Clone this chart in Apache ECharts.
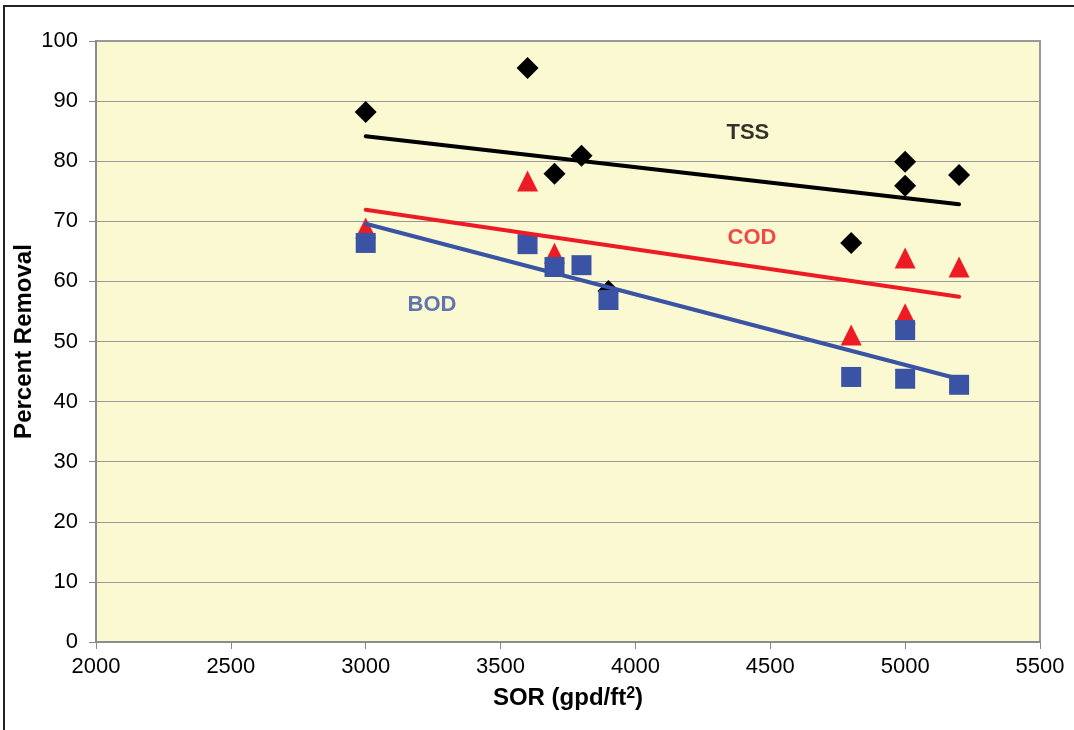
<!DOCTYPE html>
<html lang="en">
<head>
	<meta charset="UTF-8">
	<title>Percent Removal vs SOR</title>
	<style>
		body { margin: 0; background: #fff; }
	</style>
</head>
<body>
	<div id="main" style="width: 1074px;height: 730px"></div>
	<script src="https://cdn.jsdelivr.net/npm/echarts@6/dist/echarts.min.js"></script>
	<script>
		// values
		var tssX = [3000, 3600, 3700, 3800, 3900, 4800, 5000, 5000, 5200]
		var tssY = [88.2, 95.5, 77.9, 80.9, 58.4, 66.4, 79.9, 75.9, 77.7]

		var codX = [3000, 3600, 3700, 4800, 5000, 5000, 5200]
		var codY = [68.9, 76.7, 64.7, 51.1, 63.9, 54.6, 62.4]

		var bodX = [3000, 3600, 3700, 3800, 3900, 4800, 5000, 5000, 5200]
		var bodY = [66.4, 66.2, 62.4, 62.7, 56.9, 44.1, 51.9, 43.8, 42.8]

		var labelNames = ['TSS', 'COD', 'BOD']
		var labelX = [4417, 4432, 3246]
		var labelY = [84.7, 67.2, 56.1]
		var labelColors = ['#000000', '#ED1C24', '#3A53A4']

		function pairs(xs, ys) {
			return xs.map(function (x, i) { return [x, ys[i]] })
		}

		// least squares trendline over the data range
		function trend(xs, ys) {
			var n = xs.length, mx = 0, my = 0
			for (var i = 0; i < n; i++) { mx += xs[i]; my += ys[i] }
			mx /= n; my /= n
			var sxy = 0, sxx = 0
			for (var i = 0; i < n; i++) {
				sxy += (xs[i] - mx) * (ys[i] - my)
				sxx += (xs[i] - mx) * (xs[i] - mx)
			}
			var b = sxy / sxx, a = my - b * mx
			var x0 = Math.min.apply(null, xs), x1 = Math.max.apply(null, xs)
			return [[x0, a + b * x0], [x1, a + b * x1]]
		}

		var myChart = echarts.init(document.getElementById('main'));
		var option = {
			animation: false,
			graphic: [{
				type: 'rect',
				shape: { x: 4, y: 6, width: 1100, height: 800 },
				style: { fill: 'none', stroke: '#222', lineWidth: 2 },
				z: 100
			}],
			grid: {
				left: 96, right: 34, top: 41, bottom: 88,
				show: true,
				backgroundColor: '#FBF9D2',
				borderColor: '#999',
				borderWidth: 2
			},
			xAxis: {
				type: 'value',
				min: 2000, max: 5500, interval: 500,
				name: 'SOR (gpd/ft{sup|2})',
				nameLocation: 'middle',
				nameGap: 44,
				nameMoveOverlap: false,
				nameTextStyle: {
					fontFamily: 'Liberation Sans', fontSize: 24, fontWeight: 'bold', color: '#000',
					rich: {
						sup: { fontFamily: 'Liberation Sans', fontSize: 16, fontWeight: 'bold', color: '#000', verticalAlign: 'top', lineHeight: 22 }
					}
				},
				axisLine: { lineStyle: { color: '#888', width: 1.5 } },
				axisTick: { show: true, length: 7, lineStyle: { color: '#888' } },
				axisLabel: {
					fontFamily: 'Liberation Sans', fontSize: 22, color: '#000', margin: 14,
					formatter: function (v) { return String(v) }
				},
				splitLine: { show: false }
			},
			yAxis: {
				type: 'value',
				min: 0, max: 100, interval: 10,
				name: 'Percent Removal',
				nameLocation: 'middle',
				nameGap: 60,
				nameMoveOverlap: false,
				nameTextStyle: { fontFamily: 'Liberation Sans', fontSize: 24, fontWeight: 'bold', color: '#000' },
				axisLine: { show: true, lineStyle: { color: '#888', width: 1.5 } },
				axisTick: { show: true, length: 7, lineStyle: { color: '#888' } },
				axisLabel: { fontFamily: 'Liberation Sans', fontSize: 22, color: '#000', margin: 18 },
				splitLine: { lineStyle: { color: '#999', width: 1.2 } }
			},
			series: [{
				name: 'TSS',
				type: 'scatter',
				symbol: 'diamond',
				symbolSize: 22,
				itemStyle: { color: '#000', opacity: 1 },
				data: pairs(tssX, tssY),
				z: 2
			}, {
				name: 'COD',
				type: 'scatter',
				symbol: 'triangle',
				symbolSize: 21,
				itemStyle: { color: '#ED1C24', opacity: 1 },
				data: pairs(codX, codY),
				z: 3
			}, {
				name: 'BOD',
				type: 'scatter',
				symbol: 'rect',
				symbolSize: 20,
				itemStyle: { color: '#3A53A4', opacity: 1 },
				data: pairs(bodX, bodY),
				z: 4
			}, {
				type: 'line',
				data: trend(tssX, tssY),
				showSymbol: false,
				lineStyle: { color: '#000', width: 4, cap: 'round' },
				z: 5
			}, {
				type: 'line',
				data: trend(codX, codY),
				showSymbol: false,
				lineStyle: { color: '#ED1C24', width: 4, cap: 'round' },
				z: 5
			}, {
				type: 'line',
				data: trend(bodX, bodY),
				showSymbol: false,
				lineStyle: { color: '#3A53A4', width: 4, cap: 'round' },
				z: 5
			}, {
				type: 'scatter',
				symbolSize: 0,
				data: labelNames.map(function (n, i) {
					return {
						value: [labelX[i], labelY[i]],
						label: {
							show: true, position: 'inside', formatter: n,
							fontFamily: 'Liberation Sans', fontSize: 22, fontWeight: 'bold',
							color: labelColors[i]
						}
					}
				}),
				z: 6
			}]
		};
		myChart.setOption(option);
	</script>
</body>
</html>
